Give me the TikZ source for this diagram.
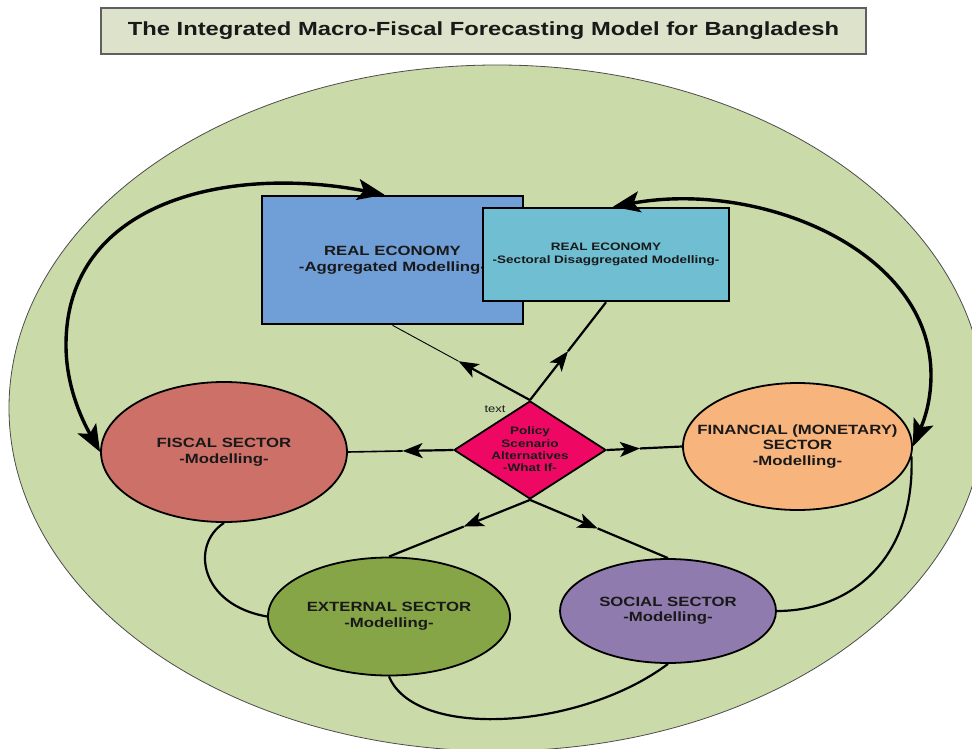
\documentclass[tikz,border=0pt]{standalone}
\usepackage{fontspec}
\setmainfont{Liberation Sans}[FakeStretch=1.25]
\usetikzlibrary{shapes.geometric,arrows.meta,calc}
\definecolor{bgell}{RGB}{203,218,169}
\definecolor{titlefill}{RGB}{221,226,202}
\definecolor{titleedge}{RGB}{95,95,95}
\definecolor{aggfill}{RGB}{112,159,216}
\definecolor{secfill}{RGB}{111,190,210}
\definecolor{fisfill}{RGB}{205,112,104}
\definecolor{finfill}{RGB}{247,180,124}
\definecolor{extfill}{RGB}{134,165,71}
\definecolor{socfill}{RGB}{143,123,173}
\definecolor{diafill}{RGB}{238,8,100}
\definecolor{txt}{RGB}{25,25,25}
\begin{document}
\begin{tikzpicture}[x=1pt,y=-1pt,
  boxnode/.style={draw=black,line width=2.6pt,rectangle,inner sep=0pt,align=center,text=txt},
  ellnode/.style={draw=black,line width=1.8pt,ellipse,inner sep=0pt},
  etext/.style={align=center,text=txt,inner sep=0pt},
  bigtext/.style={font=\bfseries\fontsize{13.4}{16}\selectfont},
  smalltext/.style={font=\bfseries\fontsize{10.8}{13}\selectfont},
  bigcurve/.style={line width=3.4pt,{Stealth[length=27pt,width=21pt,inset=6pt]}-{Stealth[length=27pt,width=21pt,inset=6pt]}},
  link/.style={line width=2.2pt},
  linkarrow/.style={line width=2.2pt,-{Stealth[length=20pt,width=15pt,inset=5pt]}},
  bendlink/.style={line width=2.2pt}
]
\useasboundingbox (0,0) rectangle (972,749);
\clip (0,0) rectangle (972,749);

% background ellipse
\draw[fill=bgell,draw=black!70,line width=0.8pt] (497,408) ellipse [x radius=488,y radius=343];

% title
\node[draw=titleedge,fill=titlefill,line width=1.5pt,minimum width=765pt,minimum height=46pt,inner sep=0pt,
  font=\bfseries\fontsize{19}{22}\selectfont,text=txt] (title) at (483.5,31)
  {The Integrated Macro-Fiscal Forecasting Model for Bangladesh};

% boxes
\node[boxnode,fill=aggfill,minimum width=261pt,minimum height=128pt,bigtext] (agg) at (392.5,260)
  {REAL ECONOMY\\-Aggregated Modelling-};
\node[boxnode,fill=secfill,minimum width=246pt,minimum height=93pt,smalltext] (sec) at (606,254.5)
  {REAL ECONOMY\\-Sectoral Disaggregated Modelling-};

% ellipses
\node[ellnode,fill=fisfill,minimum width=246pt,minimum height=140pt] (fis) at (224,452) {};
\node[etext,bigtext] (fistext) at (fis.center) {FISCAL SECTOR\\-Modelling-};
\node[ellnode,fill=finfill,minimum width=229pt,minimum height=127pt] (fin) at (797.5,446.5) {};
\node[etext,font=\bfseries\fontsize{13.4}{15.5}\selectfont] (fintext) at (fin.center)
  {FINANCIAL (MONETARY)\\SECTOR\\-Modelling-};
\node[ellnode,fill=extfill,minimum width=242pt,minimum height=118pt] (ext) at (389,616.5) {};
\node[etext,bigtext] (exttext) at (ext.center) {EXTERNAL SECTOR\\-Modelling-};
\node[ellnode,fill=socfill,minimum width=216pt,minimum height=104pt] (soc) at (668,611) {};
\node[etext,font=\bfseries\fontsize{13.4}{15}\selectfont] (soctext) at (soc.center)
  {SOCIAL SECTOR\\-Modelling-};

% diamond
\node[draw=black,line width=1.8pt,fill=diafill,diamond,minimum width=152pt,minimum height=98pt,inner sep=0pt] (dia) at (530,450) {};
\node[etext,font=\bfseries\fontsize{10.8}{12.3}\selectfont] (diatext) at (530,449.5)
  {Policy\\Scenario\\Alternatives\\-What If-};
\node[text=txt,inner sep=0pt,font=\fontsize{10.4}{12}\selectfont] (lbl) at (495,409) {text};

% big feedback curves
\coordinate (lm) at (66,345);
\coordinate (rm) at (931,375);
\draw[bigcurve] ([xshift=-8pt]agg.north) .. controls (230,165) and (66,200) .. (lm)
  .. controls (66,390) and (85,425) .. (fis.west);
\draw[bigcurve] ([xshift=7pt]sec.north) .. controls (760,180) and (931,250) .. (rm)
  .. controls (931,405) and (922,425) .. (fin.east);

% links from the diamond
\coordinate (mA) at ($(dia.north)!0.52!(agg.south)$);
\coordinate (mS) at ($(dia.north)!0.5!(sec.south)$);
\coordinate (mF) at ($(dia.west)!0.48!(fis.east)$);
\coordinate (mN) at ($(dia.east)!0.44!(fin.west)$);
\coordinate (mE) at ($(dia.south)!0.47!(ext.north)$);
\coordinate (mO) at ($(dia.south)!0.49!(soc.north)$);
\draw[line width=0.9pt] (mA) -- (agg.south);
\draw[linkarrow] (dia.north) -- (mA);
\draw[link] (mS) -- (sec.south);
\draw[linkarrow] (dia.north) -- (mS);
\draw[line width=1.6pt] (mF) -- (fis.east);
\draw[linkarrow] (dia.west) -- (mF);
\draw[link] (mN) -- (fin.west);
\draw[linkarrow] (dia.east) -- (mN);
\draw[link] (mE) -- (ext.north);
\draw[linkarrow] (dia.south) -- (mE);
\draw[link] (mO) -- (soc.north);
\draw[linkarrow] (dia.south) -- (mO);

% ring of links between sectors
\draw[bendlink] (fis.south) .. controls (190,545) and (200,605) .. (ext.west);
\draw[bendlink] (ext.south) .. controls (415,740) and (580,730) .. (soc.south);
\draw[bendlink] (soc.east) .. controls (850,611) and (915,560) .. (fin.-5);
\end{tikzpicture}
\end{document}
